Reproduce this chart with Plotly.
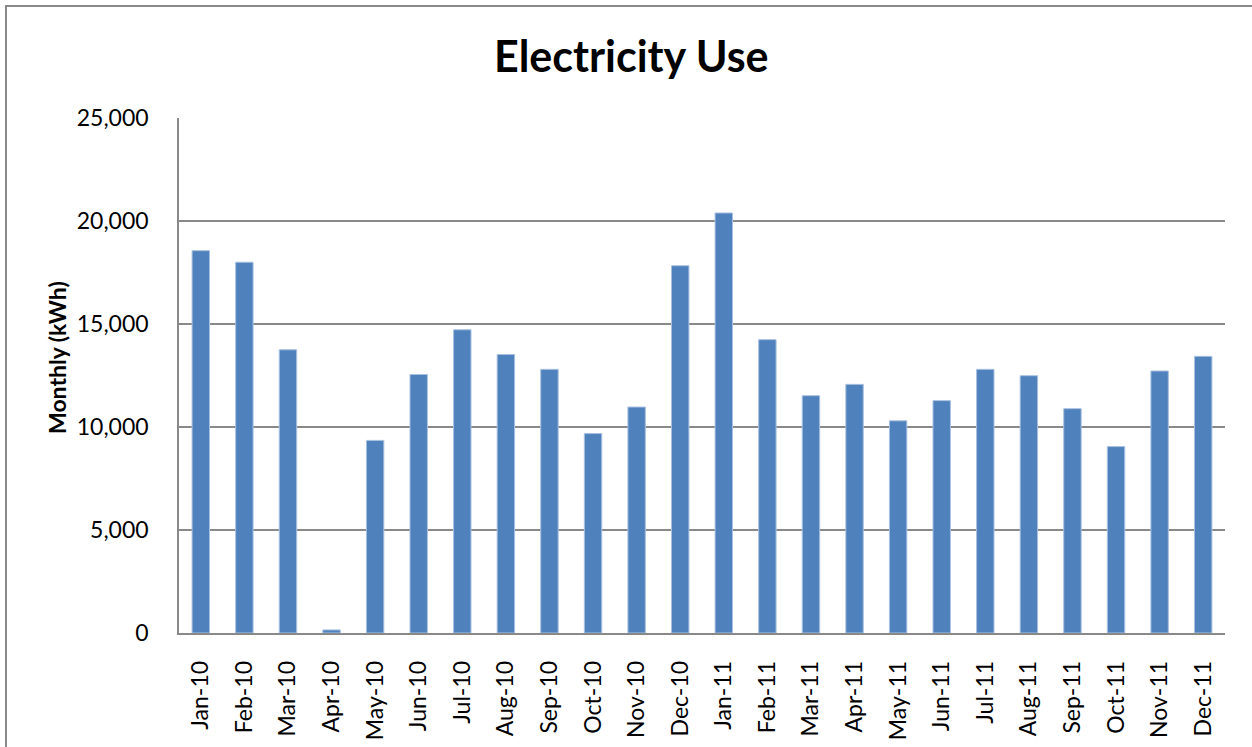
import plotly.graph_objects as go

# Monthly electricity consumption, Jan 2010 – Dec 2011
months = ["Jan-10", "Feb-10", "Mar-10", "Apr-10", "May-10", "Jun-10",
          "Jul-10", "Aug-10", "Sep-10", "Oct-10", "Nov-10", "Dec-10",
          "Jan-11", "Feb-11", "Mar-11", "Apr-11", "May-11", "Jun-11",
          "Jul-11", "Aug-11", "Sep-11", "Oct-11", "Nov-11", "Dec-11"]
kwh = [18560, 18000, 13750, 150, 9350, 12550,
       14720, 13520, 12800, 9680, 10970, 17830,
       20390, 14240, 11520, 12070, 10300, 11280,
       12800, 12490, 10890, 9050, 12720, 13430]
y_ticks = [0, 5000, 10000, 15000, 20000, 25000]

W, H = 1252, 747
L, R, T, B = 179, 27, 118, 114
pw, ph = W - L - R, H - T - B

FONT = "Lato"
GRID = "#898989"

fig = go.Figure(go.Bar(
    x=months, y=kwh,
    marker=dict(color="#4F81BD", line=dict(color="#A9C1E0", width=1)),
    width=0.4,
))

fig.update_layout(
    width=W, height=H,
    margin=dict(l=L, r=R, t=T, b=B, pad=0, autoexpand=False),
    paper_bgcolor="white", plot_bgcolor="white",
    showlegend=False,
    font=dict(family=FONT, color="black"),
    xaxis=dict(
        type="category", tickangle=-90, automargin=False,
        tickfont=dict(family=FONT, size=23, color="black"),
        showline=True, linecolor=GRID, linewidth=1.5,
        showgrid=False, ticks="outside", ticklen=17,
        tickcolor="rgba(0,0,0,0)",
        range=[-0.5, len(months) - 0.5],
    ),
    yaxis=dict(
        range=[0, 25000], tickvals=y_ticks, tickformat=",", automargin=False,
        tickfont=dict(family=FONT, size=23, color="black"),
        showline=True, linecolor=GRID, linewidth=1.5,
        showgrid=True, gridcolor=GRID, gridwidth=1.5,
        ticks="outside", ticklen=24, tickcolor="rgba(0,0,0,0)",
        zeroline=False,
    ),
    annotations=[
        dict(text="<b>Electricity Use</b>", xref="paper", yref="paper",
             x=(631 - L) / pw, y=(H - B - 55) / ph,
             xanchor="center", yanchor="middle", showarrow=False,
             font=dict(family=FONT, size=43, color="black")),
        dict(text="<b>Monthly (kWh)</b>", xref="paper", yref="paper",
             x=(57 - L) / pw, y=(H - B - 358) / ph, textangle=-90,
             xanchor="center", yanchor="middle", showarrow=False,
             font=dict(family=FONT, size=23, color="black")),
    ],
    shapes=[
        dict(type="rect", xref="paper", yref="paper",
             x0=(6 - L) / pw, x1=(W + 20 - L) / pw,
             y0=(H - B - (H + 20)) / ph, y1=(H - B - 6) / ph,
             line=dict(color=GRID, width=2), fillcolor="rgba(0,0,0,0)",
             layer="below"),
    ],
)

fig.write_html("out.html")
